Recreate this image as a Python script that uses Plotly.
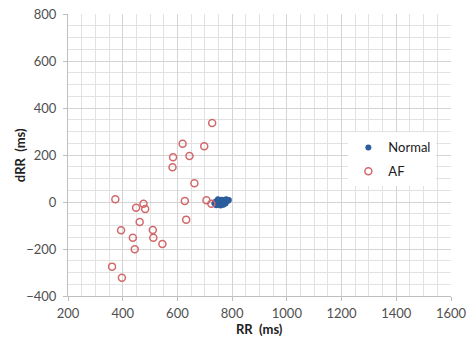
import plotly.graph_objects as go

# AF points (RR ms, dRR ms)
af_rr = [373, 449, 476, 482, 462, 394, 437, 444, 361, 397, 510, 512, 545,
         582, 627, 632, 662, 706, 724, 727, 619, 698, 644, 584]
af_drr = [12, -24, -7, -30, -85, -120, -152, -201, -275, -322, -119, -152, -179,
          148, 4, -75, 80, 7, -7, 336, 248, 237, 196, 190]

# Normal points
normal_rr = [735, 740, 745, 750, 752, 756, 760, 763, 766, 770, 772, 776,
             780, 784, 788, 742, 758, 768, 778, 748]
normal_drr = [-5, 2, -8, 5, -12, 8, -3, 10, -10, 0, 6, -6, 10, 4, 8, -14, -15, -12, 12, 12]

x_title = "RR  (ms)"
y_title = "dRR  (ms)"

FONT = "Lato, Open Sans, sans-serif"

fig = go.Figure()
fig.add_trace(go.Scatter(
    x=normal_rr, y=normal_drr, mode="markers", name="Normal", legendgroup="n",
    marker=dict(symbol="circle", size=6, color="#2c5d9c"),
))
fig.add_trace(go.Scatter(
    x=af_rr, y=af_drr, mode="markers", name="AF", legendgroup="a",
    marker=dict(symbol="circle-open", size=7, color="#d2686a", line=dict(width=1.5)),
))

tickfont = dict(family=FONT, size=13, color="#505050")
titlefont = dict(family=FONT, size=13, color="#202020")
fig.update_layout(
    width=466, height=337,
    margin=dict(l=68, r=15, t=14, b=41),
    paper_bgcolor="white", plot_bgcolor="white",
    showlegend=True,
    legend=dict(x=0.732, y=0.58, xanchor="left", yanchor="top",
                bgcolor="white", font=dict(family=FONT, size=13, color="#202020"),
                tracegroupgap=4, itemwidth=30),
    xaxis=dict(
        range=[200, 1600], dtick=200, tick0=200, automargin=False,
        showgrid=True, gridcolor="#d4d4d4", gridwidth=1,
        minor=dict(dtick=50, showgrid=True, gridcolor="#e2e2e2", gridwidth=1),
        showline=True, linecolor="#bfbfbf", linewidth=1,
        ticks="outside", ticklen=4, tickcolor="#bfbfbf", ticklabeloverflow="allow",
        tickfont=tickfont, zeroline=False, ticklabelstandoff=1,
    ),
    yaxis=dict(
        range=[-400, 800], dtick=200, automargin=False,
        showgrid=True, gridcolor="#d4d4d4", gridwidth=1,
        minor=dict(dtick=50, showgrid=True, gridcolor="#e2e2e2", gridwidth=1),
        showline=True, linecolor="#bfbfbf", linewidth=1,
        ticks="outside", ticklen=4, tickcolor="#bfbfbf", ticklabeloverflow="allow",
        tickfont=tickfont, zeroline=False, ticklabelstandoff=4,
    ),
    annotations=[
        dict(text=f"<b>{x_title}</b>", xref="paper", yref="paper", x=0.5, y=-0.117,
             xanchor="center", yanchor="middle", showarrow=False, font=titlefont),
        dict(text=f"<b>{y_title}</b>", xref="paper", yref="paper", x=-0.125, y=0.5,
             xanchor="center", yanchor="middle", textangle=-90, showarrow=False, font=titlefont),
    ],
)

fig.write_html("out.html")
